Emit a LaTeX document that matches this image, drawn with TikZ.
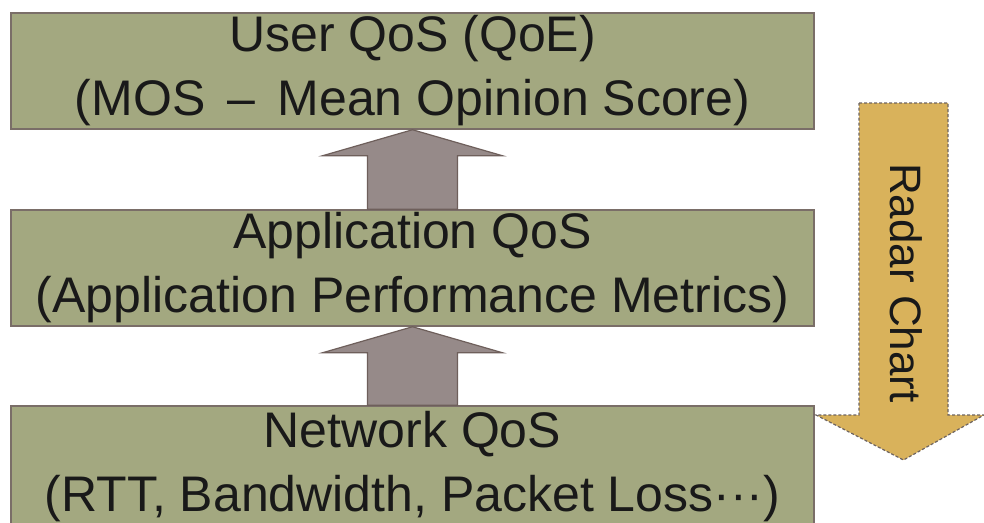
\documentclass[tikz,border=0pt]{standalone}
\usepackage{fontspec}
\setmainfont{Liberation Sans}
\usetikzlibrary{calc}
\definecolor{boxfill}{HTML}{A3A880}
\definecolor{boxline}{HTML}{7A6E68}
\definecolor{gfill}{HTML}{968A89}
\definecolor{gline}{HTML}{6E5F5B}
\definecolor{rfill}{HTML}{D9B25B}
\definecolor{rline}{HTML}{6E6460}
\tikzset{
  layerbox/.style={draw=boxline, line width=1.5pt, fill=boxfill, minimum width=803pt, minimum height=116pt, inner sep=0pt, align=center, font=\fontsize{50}{64}\selectfont, text=black!90},
  garrow/.style={draw=gline, line width=1.2pt, fill=gfill, line join=miter},
  rarrow/.style={draw=rline, line width=1.2pt, fill=rfill, dashed, dash pattern=on 3pt off 2pt},
  rlabel/.style={font=\fontsize{44}{50}\selectfont, rotate=-90, text=black!90, inner sep=0pt}
}
\begin{document}
\begin{tikzpicture}[x=1pt,y=-1pt]
\clip (0,0) rectangle (984,522);
\fill[white] (0,0) rectangle (984,522);
\node[layerbox] (user) at (412.5,71) {User QoS (QoE)\\(MOS \,–\, Mean Opinion Score)};
\node[layerbox] (app) at (412.5,268) {Application QoS\\(Application Performance Metrics)};
\node[layerbox, minimum height=122pt] (net) at (412.5,467) {Network QoS\\(RTT, Bandwidth, Packet Loss···)};
% grey block arrows
\draw[garrow] ($(net.north)+(-45,0)$) -- ($(app.south)+(-45,26)$) -- ($(app.south)+(-90,26)$) -- (app.south) -- ($(app.south)+(90,26)$) -- ($(app.south)+(45,26)$) -- ($(net.north)+(45,0)$) -- cycle;
\draw[garrow] ($(app.north)+(-45,0)$) -- ($(user.south)+(-45,26)$) -- ($(user.south)+(-90,26)$) -- (user.south) -- ($(user.south)+(90,26)$) -- ($(user.south)+(45,26)$) -- ($(app.north)+(45,0)$) -- cycle;
% radar chart arrow
\coordinate (rtop) at (903.5,103);
\coordinate (rtip) at (903.5,460);
\draw[rarrow] ($(rtop)+(-44.5,0)$) -- ($(rtop)+(44.5,0)$) -- ($(rtop)+(44.5,312)$) -- ($(rtop)+(80.5,312)$) -- (rtip) -- ($(rtop)+(-87.5,312)$) -- ($(rtop)+(-44.5,312)$) -- cycle;
\node[rlabel] (radar) at (906,283) {Radar Chart};
\end{tikzpicture}
\end{document}
